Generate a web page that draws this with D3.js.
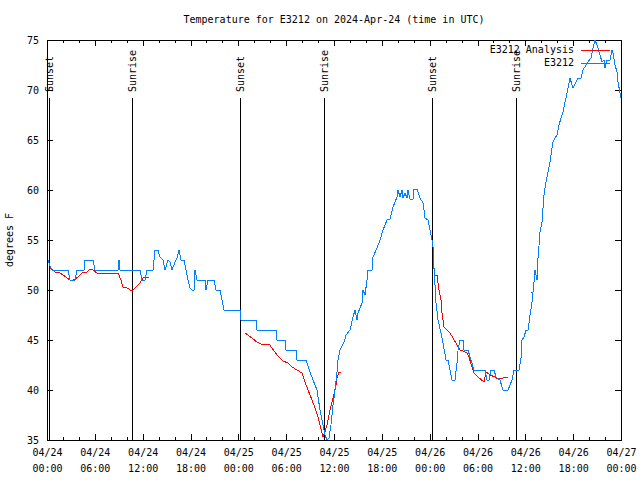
<!DOCTYPE html>
<html>
<head>
<meta charset="utf-8">
<script src="https://cdn.jsdelivr.net/npm/d3@7"></script>
<style>
  html, body { margin: 0; padding: 0; background: #fff; }
  svg { display: block; }
  text { font-family: "DejaVu Sans Mono", monospace; font-size: 10px; fill: #000; }
</style>
</head>
<body>
<svg id="chart" width="640" height="480"></svg>
<script>
// ---- data (hours after 2024-04-24 00:00 UTC, temperature in degrees F) ----
const titleText = "Temperature for E3212 on 2024-Apr-24 (time in UTC)";
const yLabel = "degrees F";
const seriesNames = ["E3212 Analysis", "E3212"];

const stationHours = [0.13,0.38,0.63,2.63,2.89,3.51,3.76,4.64,4.77,5.77,6.02,8.91,9.03,9.16,11.67,11.92,12.29,12.54,13.30,13.55,13.92,14.17,14.55,14.80,15.18,15.43,15.68,16.06,16.31,16.56,16.81,17.19,17.44,17.69,17.94,18.19,18.44,18.56,18.82,19.82,19.94,20.20,20.95,21.20,21.70,21.95,22.20,24.21,24.34,26.22,26.34,28.73,28.85,29.85,29.98,31.23,31.36,32.49,32.99,33.37,33.87,34.24,34.62,34.87,35.12,35.37,35.62,35.88,36.13,36.38,36.50,36.75,37.26,37.51,38.01,38.38,38.64,38.89,39.01,39.51,39.64,39.89,40.14,40.27,40.77,40.89,41.39,41.77,42.15,42.65,43.03,43.40,43.90,44.03,44.28,44.53,44.66,44.91,45.16,45.28,45.53,45.91,46.04,46.41,46.79,47.17,47.42,47.79,48.04,48.29,48.42,48.54,48.67,48.80,49.05,49.42,49.67,50.05,50.30,50.55,50.80,51.18,51.43,51.56,51.81,52.18,52.31,52.81,53.06,53.31,53.56,54.94,55.19,55.44,55.70,56.07,56.32,56.82,57.20,57.83,58.33,58.58,59.21,59.46,59.58,59.83,60.09,60.34,60.59,60.84,60.96,61.09,61.21,61.47,61.59,61.72,61.84,62.09,62.22,62.34,62.59,62.84,63.10,63.35,63.47,63.72,63.97,64.22,64.48,64.73,64.98,65.23,65.35,65.60,65.86,65.98,66.36,66.61,66.98,67.24,67.61,67.86,68.24,68.49,68.74,68.99,69.37,69.62,69.87,69.99,70.25,70.62,70.87,71.00,71.25,71.50,71.62,72.00];
const stationTemps = [53,52.4,52,52,51,51,52,52,53,53,52,52,53,52,52,51,51,52,52,54,54,53.3,53,52,53,52.8,52,52.8,53.2,54,53,53,52,51,50.2,50,50,52,51,51,50,51,51,50,50,49,48,48,47,47,46,46,45,45,44,44,43,43,41.8,41,40,38,36.5,35.5,35,35.2,36.5,38.5,40,41.8,43,44,44.8,45.5,46,47.3,48,47,47.7,48.7,50,49.5,51,52,52,53.3,54.2,55,56,57,57.1,58.3,59.3,60,59.3,60,59.2,59.7,59.2,60,59.1,59.1,60.1,60.1,59.2,58.7,57.2,57,56,55,54.3,52.2,50.5,48.7,47,45.7,44.7,43,43,42,41,41,42.7,44,45,45,44,44,43.3,42.7,42,42,41,41,42,42,41.3,41,40,40,41,42,42,43.2,45,45.3,46,46,47.5,48.8,49.8,50.8,52,51,53.2,54.5,55.8,56.8,58.2,59.5,60.8,61.8,62.8,64.2,64.8,65.2,65.5,66.5,67.2,67.8,68.8,69.7,70.2,71.2,70.5,70.2,70.8,71.2,71.2,72,72.5,72.8,73.2,74.2,75,74.5,73.5,72.8,73,72.2,73,73,74,73.7,72.5,71.8,70.8,69.2];

// analysis series; null marks a gap between segments
const analysisHours = [0.38,1.00,1.63,2.01,2.51,3.01,3.51,3.89,4.39,5.02,5.39,5.77,6.27,6.65,8.91,9.28,9.53,10.04,10.66,11.04,11.42,11.67,12.04,12.42,12.79,null,
  24.84,25.21,25.84,26.34,26.84,27.85,28.22,28.85,29.60,30.23,30.73,31.36,31.99,32.36,32.74,33.24,33.62,33.99,34.62,34.87,35.12,35.50,35.88,36.25,36.38,36.63,36.88,null,
  48.67,48.92,49.17,49.42,49.55,49.80,50.18,50.55,50.93,51.43,51.81,52.18,52.68,52.93,53.31,53.56,54.06,54.81,55.07,55.57,56.20,56.57,57.20,57.83,null,
  60.72,60.90];
const analysisTemps = [52.2,51.8,51.7,51.5,51.2,50.9,51.1,51.3,51.7,51.8,52.1,52,51.7,51.7,51.7,51,50.3,50.2,49.9,50.2,50.5,50.7,51.2,51.3,51.3,null,
  45.7,45.5,45.1,44.8,44.6,44.6,44.2,43.5,42.9,42.7,42.3,42,41.7,40.8,40,39,38.2,37.3,35.3,35.8,36.5,38,39.2,40.5,41.2,41.8,41.8,null,
  51.5,51.5,50,49,47.7,46.3,46,45.7,45.2,44.5,44,43.9,43.7,43.3,42.3,41.7,41.3,40.8,41.8,41.5,41.3,41.1,41.2,41.3,null,
  49.8,49.8];

const sunHours = [0.25,10.66,24.21,34.75,48.29,58.83];
const sunLabels = ["Sunset","Sunrise","Sunset","Sunrise","Sunset","Sunrise"];
const yTicks = [35,40,45,50,55,60,65,70,75];

// ---- layout ----
const base = Date.UTC(2024,3,24,0,0,0);
const toDate = h => new Date(base + h*3600e3);
const pL = 47, pR = 621, pT = 40, pB = 440;
const colors = ["#ff0000", "#0080ff"];

const svg = d3.select("#chart");
const x = d3.scaleUtc().domain([toDate(0), toDate(72)]).range([pL, pR]);
const y = d3.scaleLinear().domain([35, 75]).range([pB, pT]);

// title
svg.append("text").attr("x", (pL+pR)/2).attr("y", 20)
  .attr("text-anchor", "middle").attr("dominant-baseline", "middle").text(titleText);

// y label
svg.append("text").attr("transform", `translate(10,${(pT+pB)/2}) rotate(-90)`)
  .attr("text-anchor", "middle").attr("dominant-baseline", "middle").text(yLabel);

// axes
const fmtDay = d3.utcFormat("%m/%d"), fmtTime = d3.utcFormat("%H:%M");
const majorX = d3.utcHour.every(6).range(toDate(0), toDate(72.01));
const minorX = d3.utcHour.every(2).range(toDate(0), toDate(72.01));

const gB = svg.append("g").attr("transform", `translate(0,${pB})`)
  .call(d3.axisBottom(x).tickValues(majorX).tickSize(-6).tickPadding(9).tickFormat(""));
gB.selectAll(".tick text").each(function(d){
  const t = d3.select(this);
  t.attr("dy", null).attr("dominant-baseline", "middle").attr("y", 13);
  t.append("tspan").attr("x", 0).text(fmtDay(d));
  t.append("tspan").attr("x", 0).attr("dy", 16).text(fmtTime(d));
});
svg.append("g").attr("transform", `translate(0,${pB})`)
  .call(d3.axisBottom(x).tickValues(minorX).tickSize(-3).tickFormat(""));
svg.append("g").attr("transform", `translate(0,${pT})`)
  .call(d3.axisTop(x).tickValues(majorX).tickSize(-6).tickFormat(""));
svg.append("g").attr("transform", `translate(0,${pT})`)
  .call(d3.axisTop(x).tickValues(minorX).tickSize(-3).tickFormat(""));

const gL = svg.append("g").attr("transform", `translate(${pL},0)`)
  .call(d3.axisLeft(y).tickValues(yTicks).tickSize(-6).tickPadding(8).tickFormat(d3.format("d")));
gL.selectAll(".tick text").attr("dominant-baseline", "middle").attr("dy", null);
svg.append("g").attr("transform", `translate(${pR},0)`)
  .call(d3.axisRight(y).tickValues(yTicks).tickSize(-6).tickFormat(""));

svg.selectAll(".domain").remove();
svg.selectAll(".tick line").attr("stroke", "#000").attr("shape-rendering", "crispEdges");
svg.selectAll(".tick text").attr("font-family", "DejaVu Sans Mono").attr("font-size", 10).attr("fill", "#000");

// border
svg.append("rect").attr("x", pL+0.5).attr("y", pT+0.5)
  .attr("width", pR-pL).attr("height", pB-pT)
  .attr("fill", "none").attr("stroke", "#000").attr("shape-rendering", "crispEdges");

// sun lines and labels
sunHours.forEach((h, i) => {
  const xx = Math.round(x(toDate(h))) + 0.5;
  svg.append("line").attr("x1", xx).attr("x2", xx).attr("y1", 98).attr("y2", pB)
    .attr("stroke", "#000").attr("shape-rendering", "crispEdges");
  svg.append("text").attr("transform", `translate(${xx},92) rotate(-90)`)
    .attr("text-anchor", "start").attr("dominant-baseline", "middle").text(sunLabels[i]);
});

// data lines
const line = d3.line()
  .defined(d => d[0] !== null && d[1] !== null)
  .x(d => x(toDate(d[0]))).y(d => y(d[1]));

const analysisData = analysisHours.map((h, i) => [h, analysisTemps[i]]);
const stationData = stationHours.map((h, i) => [h, stationTemps[i]]);

svg.append("path").datum(analysisData).attr("d", line)
  .attr("fill", "none").attr("stroke", colors[0]).attr("stroke-width", 1).attr("shape-rendering", "crispEdges");
svg.append("path").datum(stationData).attr("d", line)
  .attr("fill", "none").attr("stroke", colors[1]).attr("stroke-width", 1).attr("shape-rendering", "crispEdges");

// legend
seriesNames.forEach((name, i) => {
  const ly = 50 + i*12.5;
  svg.append("text").attr("x", 574).attr("y", ly).attr("text-anchor", "end")
    .attr("dominant-baseline", "middle").text(name);
  svg.append("line").attr("x1", 581).attr("x2", 610).attr("y1", Math.round(ly)+0.5).attr("y2", Math.round(ly)+0.5)
    .attr("stroke", colors[i]).attr("shape-rendering", "crispEdges");
});
</script>
</body>
</html>
